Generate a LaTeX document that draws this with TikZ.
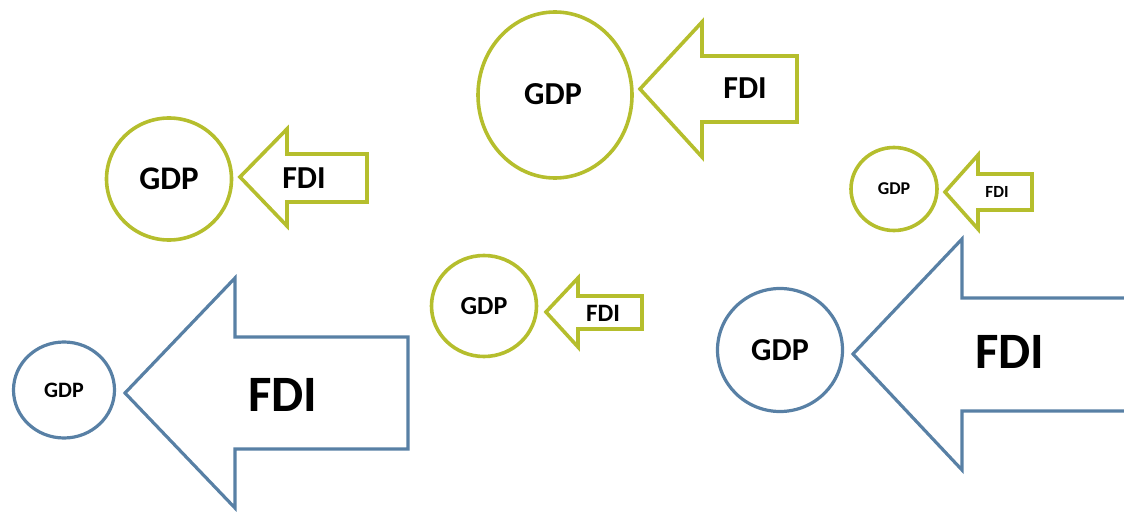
\documentclass[tikz,border=0pt]{standalone}
\usepackage{fontspec}
\setmainfont{Carlito}
\usetikzlibrary{shapes.geometric}
\definecolor{gdpgreen}{RGB}{181,190,45}
\definecolor{gdpblue}{RGB}{88,128,165}
\tikzset{
  olivepen/.style={draw=gdpgreen, line width=3.6pt, line join=miter},
  bluepen/.style={draw=gdpblue, line width=3.2pt, line join=miter},
  gdp/.style={ellipse, inner sep=0pt},
  lbl/.style={inner sep=0pt, font={\fontsize{#1}{#1}\selectfont\bfseries}}
}
\begin{document}
\begin{tikzpicture}[x=1pt, y=-1pt]
    \useasboundingbox (0,0) rectangle (1124,513);
    % Arriba al centro
    \node[gdp, olivepen, minimum width=154pt, minimum height=166pt] (gdpA) at (555,95) {};
    \node[lbl=32] (gdpAt) at (553,94) {GDP};
    \draw[olivepen] (640,89) -- (702,22) -- (702,56) -- (797,56) -- (797,122)
        -- (702,122) -- (702,157) -- cycle;
    \node[lbl=32] (fdiA) at (745,88) {FDI};
    % Izquierda, verde
    \node[gdp, olivepen, minimum width=125pt, minimum height=122pt] (gdpB) at (169,179) {};
    \node[lbl=33] (gdpBt) at (gdpB) {GDP};
    \draw[olivepen] (240,177) -- (287,129) -- (287,154) -- (367,154) -- (367,202)
        -- (287,202) -- (287,226) -- cycle;
    \node[lbl=32] (fdiB) at (304,178) {FDI};
    % Derecha, chico
    \node[gdp, olivepen, minimum width=86pt, minimum height=83pt] (gdpC) at (894,189) {};
    \node[lbl=18] (gdpCt) at (gdpC) {GDP};
    \draw[olivepen] (945,192) -- (978,155) -- (978,174) -- (1032,174) -- (1032,210)
        -- (978,210) -- (978,229) -- cycle;
    \node[lbl=17] (fdiC) at (997,192) {FDI};
    % Centro, verde
    \node[gdp, olivepen, minimum width=105pt, minimum height=101pt] (gdpD) at (484,306) {};
    \node[lbl=26] (gdpDt) at (gdpD) {GDP};
    \draw[olivepen] (546,312) -- (578,278) -- (578,296) -- (642,296) -- (642,329)
        -- (578,329) -- (578,347) -- cycle;
    \node[lbl=25] (fdiD) at (603,313) {FDI};
    % Izquierda, azul
    \node[gdp, bluepen, minimum width=101pt, minimum height=96pt] (gdpE) at (64,390) {};
    \node[lbl=22] (gdpEt) at (gdpE) {GDP};
    \draw[bluepen] (125,393) -- (235,278) -- (235,337) -- (408,337) -- (408,449)
        -- (235,449) -- (235,508) -- cycle;
    \node[lbl=51] (fdiE) at (283,395) {FDI};
    % Derecha, azul (cortada)
    \node[gdp, bluepen, minimum width=125pt, minimum height=123pt] (gdpF) at (780,350) {};
    \node[lbl=32] (gdpFt) at (gdpF) {GDP};
    \draw[bluepen] (1130,298) -- (962,298) -- (962,239) -- (853,354) -- (962,470)
        -- (962,411) -- (1130,411);
    \node[lbl=51] (fdiF) at (1010,352) {FDI};
\end{tikzpicture}
\end{document}
